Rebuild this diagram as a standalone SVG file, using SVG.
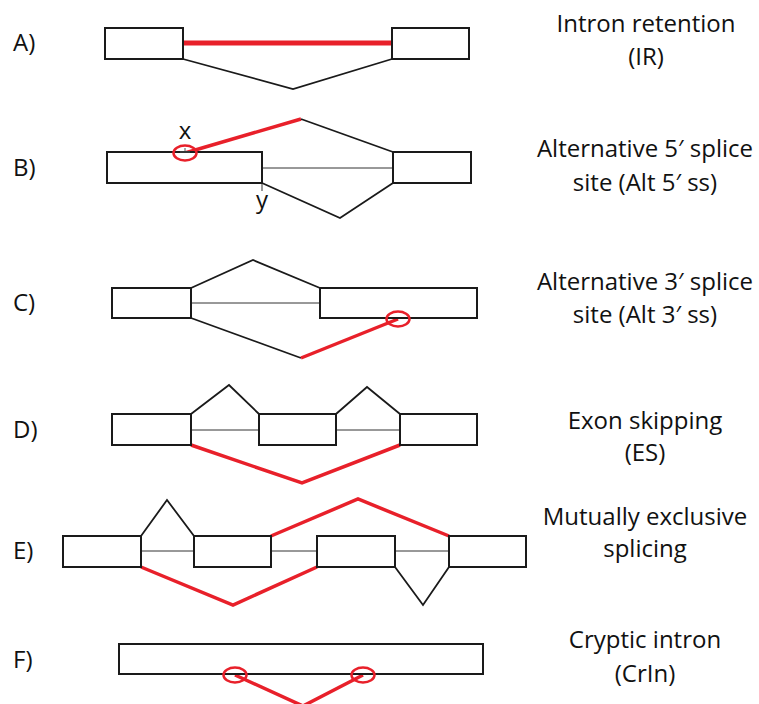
<svg xmlns="http://www.w3.org/2000/svg" width="759" height="704" viewBox="0 0 759 704">
<style>
.exon{fill:#fff;stroke:#1a1a1a;stroke-width:2}
.intron{stroke:#333;stroke-width:1;fill:none}
.splice{stroke:#1a1a1a;stroke-width:1.8;fill:none;stroke-linejoin:miter}
.alt{stroke:#e8202a;stroke-width:3.5;fill:none}
.ring{stroke:#e8202a;stroke-width:2.5;fill:none}
.lbl{font-family:"Open Sans","Liberation Sans",sans-serif;font-size:24px;fill:#111}
.desc{font-family:"Open Sans","Liberation Sans",sans-serif;font-size:24px;fill:#111;text-anchor:middle}
</style>
<rect width="759" height="704" fill="#fff"/>
<g id="labels">
<text class="lbl" x="13" y="51">A)</text>
<text class="lbl" x="13" y="176">B)</text>
<text class="lbl" x="13" y="311">C)</text>
<text class="lbl" x="13" y="438">D)</text>
<text class="lbl" x="13" y="559">E)</text>
<text class="lbl" x="13" y="668">F)</text>
</g>
<g id="descriptions">
<text class="desc" x="646" y="32">Intron retention</text>
<text class="desc" x="646" y="65">(IR)</text>
<text class="desc" x="645" y="157">Alternative 5′ splice</text>
<text class="desc" x="645" y="191">site (Alt 5′ ss)</text>
<text class="desc" x="645" y="290">Alternative 3′ splice</text>
<text class="desc" x="645" y="323">site (Alt 3′ ss)</text>
<text class="desc" x="645" y="429">Exon skipping</text>
<text class="desc" x="645" y="461">(ES)</text>
<text class="desc" x="645" y="525">Mutually exclusive</text>
<text class="desc" x="645" y="557">splicing</text>
<text class="desc" x="645" y="648">Cryptic intron</text>
<text class="desc" x="645" y="682">(CrIn)</text>
</g>
<g id="connectors">
<!-- A -->
<line x1="183" y1="43" x2="392" y2="43" stroke="#e8202a" stroke-width="5"/>
<polyline class="splice" points="183,59 293,89 392,59"/>
<!-- B -->
<line class="intron" x1="262" y1="168" x2="393" y2="168"/>
<polyline class="alt" points="185,153 301,119"/>
<polyline class="splice" points="301,119 393,152"/>
<polyline class="splice" points="262,183 340,218 393,183"/>
<line x1="262" y1="183" x2="262" y2="191" stroke="#555" stroke-width="1.2"/>
<line x1="185" y1="148" x2="185" y2="157" stroke="#555" stroke-width="1"/>
<!-- C -->
<line class="intron" x1="191" y1="303" x2="320" y2="303"/>
<polyline class="splice" points="191,288 253,260 320,288"/>
<polyline class="splice" points="191,318 301,358"/>
<polyline class="alt" points="301,358 398,319"/>
<!-- D -->
<line class="intron" x1="191" y1="430" x2="259" y2="430"/>
<line class="intron" x1="336" y1="430" x2="400" y2="430"/>
<polyline class="splice" points="191,414 229,385 259,414"/>
<polyline class="splice" points="336,414 367,387 400,414"/>
<polyline class="alt" points="191,445 302,483 400,445"/>
<!-- E -->
<line class="intron" x1="141" y1="551" x2="194" y2="551"/>
<line class="intron" x1="271" y1="551" x2="317" y2="551"/>
<line class="intron" x1="395" y1="551" x2="449" y2="551"/>
<polyline class="splice" points="141,536 167,500 194,536"/>
<polyline class="alt" points="271,536 358,499 449,536"/>
<polyline class="alt" points="141,567 233,605 317,567"/>
<polyline class="splice" points="395,567 423,605 449,567"/>
<!-- F -->
<polyline class="alt" points="235,675 303,706 363,675"/>
</g>
<g id="exonsA">
<rect class="exon" x="105" y="28" width="78" height="31"/>
<rect class="exon" x="392" y="28" width="77" height="31"/>
</g>
<g id="exonsB">
<rect class="exon" x="107" y="152" width="155" height="31"/>
<rect class="exon" x="393" y="152" width="78" height="31"/>
</g>
<g id="exonsC">
<rect class="exon" x="112" y="288" width="79" height="30"/>
<rect class="exon" x="320" y="288" width="157" height="30"/>
</g>
<g id="exonsD">
<rect class="exon" x="112" y="414" width="79" height="31"/>
<rect class="exon" x="259" y="414" width="77" height="31"/>
<rect class="exon" x="400" y="414" width="77" height="31"/>
</g>
<g id="exonsE">
<rect class="exon" x="63" y="536" width="78" height="31"/>
<rect class="exon" x="194" y="536" width="77" height="31"/>
<rect class="exon" x="317" y="536" width="78" height="31"/>
<rect class="exon" x="449" y="536" width="77" height="31"/>
</g>
<g id="exonF">
<rect class="exon" x="119" y="644" width="364" height="30"/>
</g>
<g id="sites">
<ellipse class="ring" cx="185" cy="153" rx="11.5" ry="7.5"/>
<line x1="180" y1="152" x2="190" y2="152" stroke="#555" stroke-width="1"/>
<text class="lbl" x="185" y="139" text-anchor="middle" font-size="22">x</text>
<text class="lbl" x="262" y="208" text-anchor="middle" font-size="22">y</text>
<ellipse class="ring" cx="398" cy="319" rx="11.5" ry="7.5"/>
<ellipse class="ring" cx="235" cy="675" rx="11.5" ry="7.5"/>
<ellipse class="ring" cx="363" cy="675" rx="11.5" ry="7.5"/>
</g>
</svg>
